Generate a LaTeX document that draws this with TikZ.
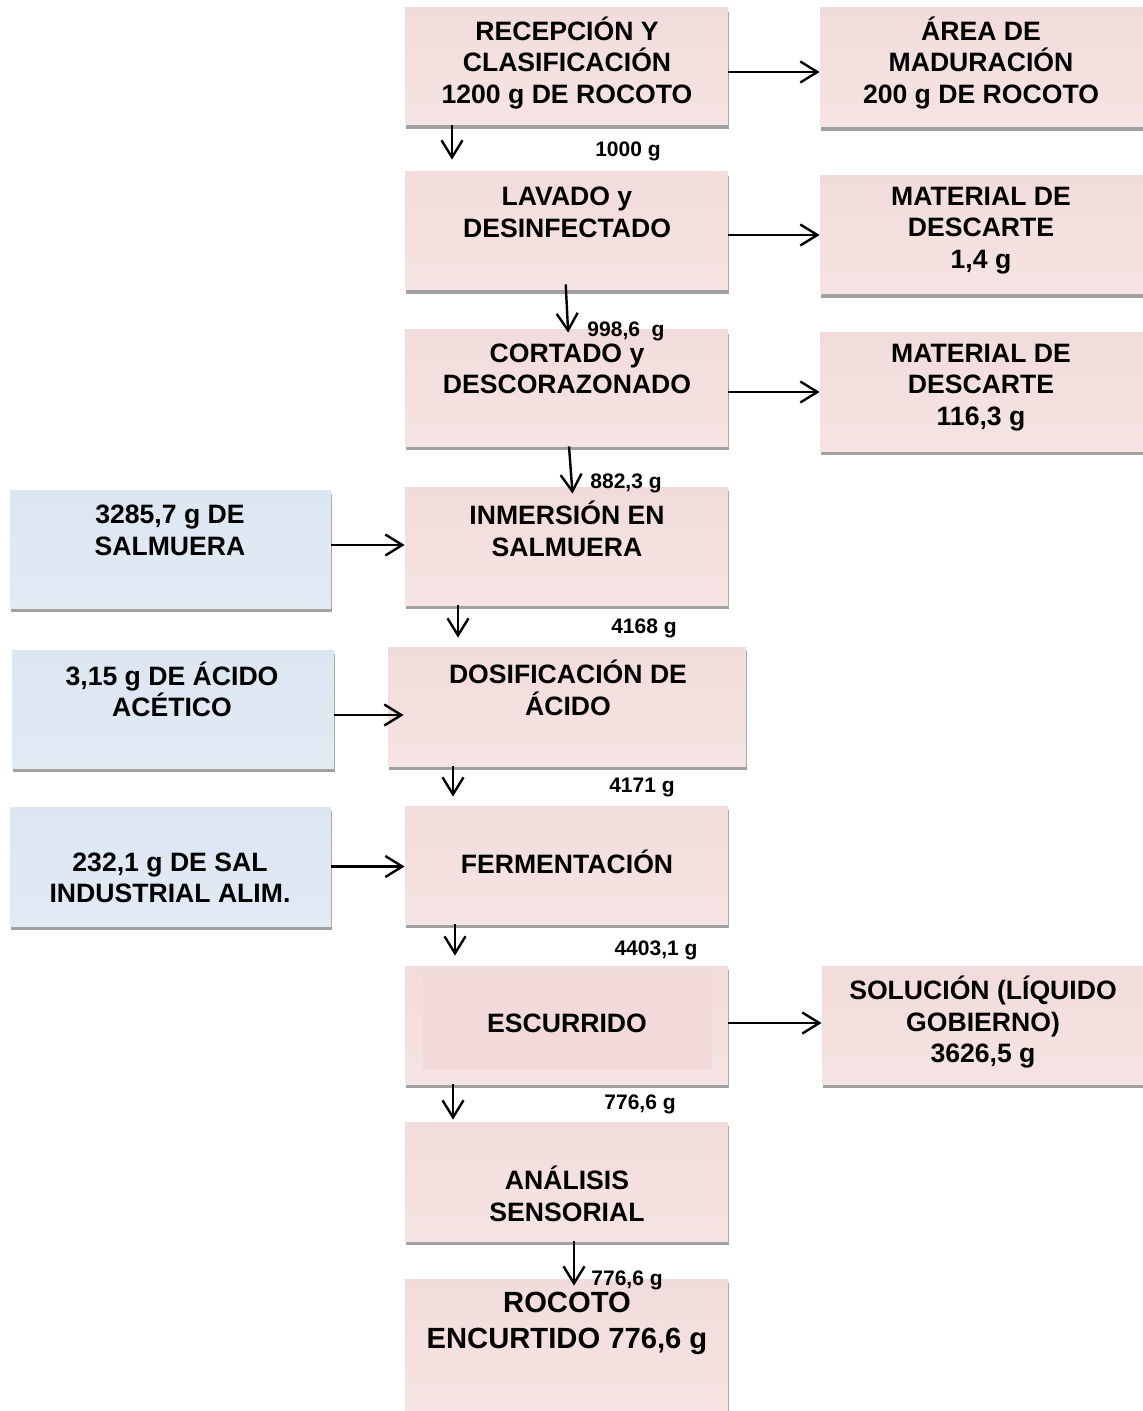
\documentclass[tikz,border=0pt]{standalone}
\usepackage{fontspec}
\setmainfont{Liberation Sans}
\usetikzlibrary{positioning,arrows.meta,shadows}
\definecolor{pinkfill}{HTML}{F2DCDB}
\definecolor{pinklow}{HTML}{F5E4E3}
\definecolor{pinkin}{HTML}{F1DAD9}
\definecolor{bluefill}{HTML}{DCE6F2}
\definecolor{bluelow}{HTML}{E2EAF4}
\tikzset{
	box/.style={rectangle, minimum width=161.5pt, minimum height=59pt, inner sep=0pt,
		drop shadow={shadow xshift=0.5pt, shadow yshift=-2pt, fill=black!37, opacity=1}},
	pinkbox/.style={box, top color=pinkfill, bottom color=pinklow},
	bluebox/.style={box, top color=bluefill, bottom color=bluelow},
	txt/.style={align=center, inner sep=0pt, font=\fontsize{13.3}{15.75}\selectfont\bfseries},
	mass/.style={inner sep=0pt, font=\fontsize{10.5}{12}\selectfont\bfseries},
	flow/.style={line width=1.2pt, -{Straight Barb[length=8.5pt,width=10.5pt]}},
}
\begin{document}
\begin{tikzpicture}[x=0.5pt, y=-0.5pt]
		\useasboundingbox (0,0) rectangle (1143,1411);
		% main line
		\node[pinkbox, minimum height=58.5pt] (rec) at (566.5,66.5) {};
		\node[pinkbox] (lav) at (566.5,231) {};
		\node[pinkbox, minimum height=58pt] (cor) at (566.5,388) {};
		\node[pinkbox] (inm) at (566.5,546) {};
		\node[pinkbox, minimum width=179pt, minimum height=59.5pt] (dos) at (567,706.5) {};
		\node[pinkbox] (fer) at (566.5,865) {};
		\node[pinkbox] (esc) at (566.5,1025) {};
		\node[fill=pinkin, minimum width=144.5pt, minimum height=47.5pt, inner sep=0pt] (escin) at (567.5,1022.5) {};
		\node[pinkbox, minimum height=59.5pt] (ana) at (566.5,1181.5) {};
		\node[pinkbox, minimum height=66pt] (enc) at (566.5,1345) {};
		% outputs
		\node[pinkbox, minimum height=59.5pt] (are) at (981.5,67.5) {};
		\node[pinkbox] (des1) at (981.5,235) {};
		\node[pinkbox] (des2) at (981.5,392) {};
		\node[pinkbox, minimum width=160.5pt] (sol) at (982.5,1025) {};
		% inputs
		\node[bluebox, minimum width=160.5pt] (salm) at (170.5,549) {};
		\node[bluebox, minimum width=161pt] (acid) at (173,709) {};
		\node[bluebox, minimum width=160.5pt, minimum height=59.5pt] (sal) at (170.5,866.5) {};
		%
		\node[txt] (rect) at (567,63) {RECEPCIÓN Y\\CLASIFICACIÓN\\1200 g DE ROCOTO};
		\node[txt] (lavt) at (567,212.5) {LAVADO y\\DESINFECTADO};
		\node[txt] (cort) at (567,369) {CORTADO y\\DESCORAZONADO};
		\node[txt] (inmt) at (567,529) {INMERSIÓN EN\\SALMUERA};
		\node[txt] (dost) at (568,688) {DOSIFICACIÓN DE\\ÁCIDO};
		\node[txt] (fert) at (567,862) {FERMENTACIÓN};
		\node[txt] (esct) at (567,1023) {ESCURRIDO};
		\node[txt] (anat) at (567,1194) {ANÁLISIS\\SENSORIAL};
		\node[txt, font=\fontsize{14.6}{18}\selectfont\bfseries] (enct) at (567,1323) {ROCOTO\\ENCURTIDO 776,6 g};
		\node[txt] (aret) at (981,63) {ÁREA DE\\MADURACIÓN\\200 g DE ROCOTO};
		\node[txt] (des1t) at (981,230.5) {MATERIAL DE\\DESCARTE\\1,4 g};
		\node[txt] (des2t) at (981,387.5) {MATERIAL DE\\DESCARTE\\116,3 g};
		\node[txt] (solt) at (983,1022.5) {SOLUCIÓN (LÍQUIDO\\GOBIERNO)\\3626,5 g};
		\node[txt] (salmt) at (170,530.5) {3285,7 g DE\\SALMUERA};
		\node[txt] (acidt) at (172,689.5) {3,15 g DE ÁCIDO\\ACÉTICO};
		\node[txt] (salt) at (170,878) {232,1 g DE SAL\\INDUSTRIAL ALIM.};
		%
		\draw[flow] ([yshift=-2.75pt]rec.east) -- ([yshift=-2.75pt]rec.east -| are.west);
		\draw[flow] (lav.east |- des1.west) -- (des1.west);
		\draw[flow] (cor.east |- des2.west) -- (des2.west);
		\draw[flow] ([yshift=1pt]esc.east) -- ([yshift=1pt]sol.west);
		\draw[flow] ([yshift=2pt]salm.east) -- ([yshift=2pt]salm.east -| inm.west);
		\draw[flow, shorten >=-8pt] ([yshift=-3pt]acid.east) -- ([yshift=-3pt]acid.east -| dos.west);
		\draw[flow] (sal.east) -- (sal.east -| fer.west);
		%
		\draw[flow, shorten >=6pt] ([xshift=-57.25pt]rec.south) -- ([xshift=-57.25pt]lav.north);
		\draw[flow, shorten <=-3pt, shorten >=-1.5pt] ([xshift=-0.25pt]lav.south) -- ([xshift=0.75pt]cor.north);
		\draw[flow, shorten >=-3.5pt] ([xshift=1.25pt]cor.south) -- ([xshift=2.75pt]inm.north);
		\draw[flow, shorten >=4.5pt] ([xshift=-54.25pt]inm.south) -- ([xshift=-54.25pt]inm.south |- dos.north);
		\draw[flow, shorten >=4.5pt] ([xshift=-57pt]dos.south) -- ([xshift=-57pt]dos.south |- fer.north);
		\draw[flow, shorten >=5pt] ([xshift=-55.75pt]fer.south) -- ([xshift=-55.75pt]esc.north);
		\draw[flow, shorten >=1pt] ([xshift=-56.75pt]esc.south) -- ([xshift=-56.75pt]ana.north);
		\draw[flow, shorten >=-3.5pt] ([xshift=3.75pt]ana.south) -- ([xshift=3.75pt]enc.north);
		%
		\node[mass] (m1) at (628,151) {1000 g};
		\node[mass] (m2) at (626,331) {998,6\ \ g};
		\node[mass] (m3) at (626,483) {882,3 g};
		\node[mass] (m4) at (644,628) {4168 g};
		\node[mass] (m5) at (642,787) {4171 g};
		\node[mass] (m6) at (656,950) {4403,1 g};
		\node[mass] (m7) at (640,1104) {776,6 g};
		\node[mass] (m8) at (627,1280) {776,6 g};
\end{tikzpicture}
\end{document}
